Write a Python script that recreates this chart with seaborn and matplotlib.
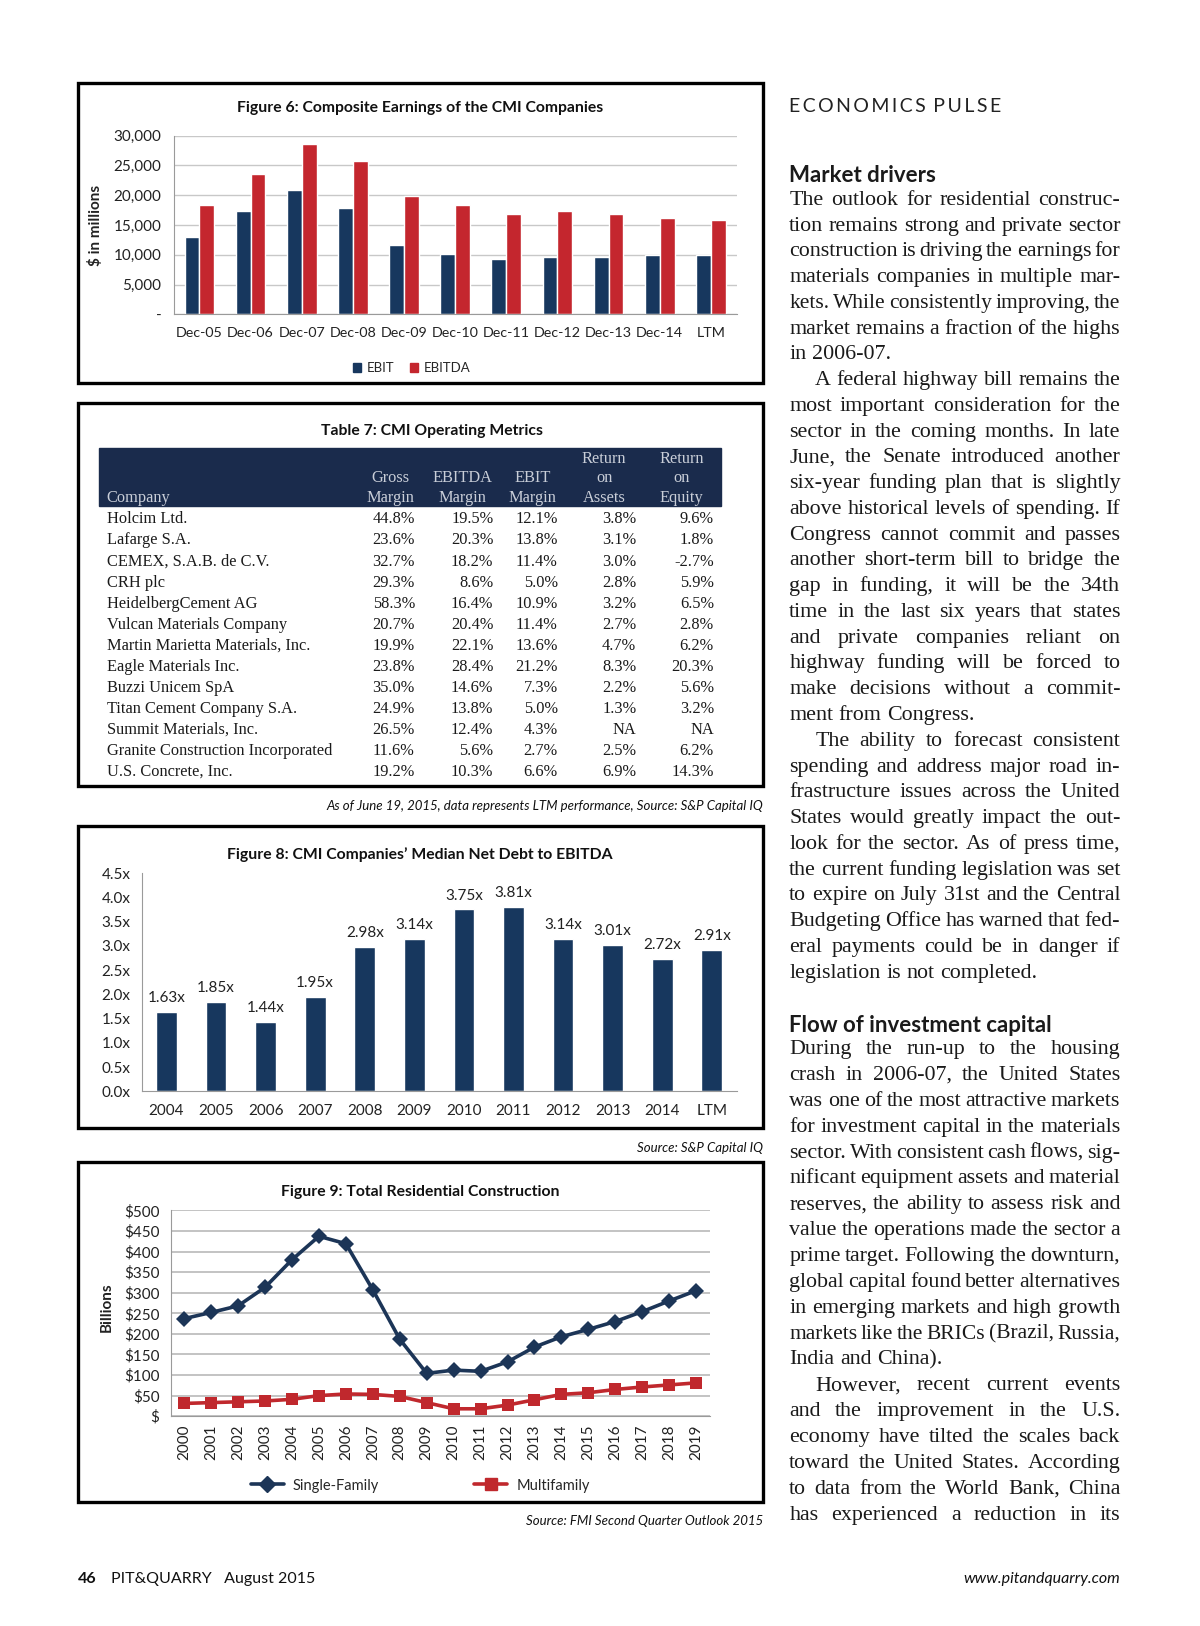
import numpy as np
import pandas as pd
import seaborn as sns
import matplotlib
matplotlib.use("Agg")
import matplotlib.pyplot as plt
from matplotlib.patches import Rectangle, Patch
from matplotlib.lines import Line2D
from matplotlib import font_manager

# ---------------- data ----------------
periods6 = ["Dec-05", "Dec-06", "Dec-07", "Dec-08", "Dec-09", "Dec-10",
            "Dec-11", "Dec-12", "Dec-13", "Dec-14", "LTM"]
ebit = [13000, 17300, 20900, 17800, 11600, 10100, 9300, 9700, 9700, 10000, 10000]
ebitda = [18400, 23500, 28500, 25700, 19900, 18400, 16900, 17300, 16800, 16100, 15800]

table_cols = ["Gross\nMargin", "EBITDA\nMargin", "EBIT\nMargin", "Return\non\nAssets", "Return\non\nEquity"]
companies = ["Holcim Ltd.", "Lafarge S.A.", "CEMEX, S.A.B. de C.V.", "CRH plc",
             "HeidelbergCement AG", "Vulcan Materials Company",
             "Martin Marietta Materials, Inc.", "Eagle Materials Inc.", "Buzzi Unicem SpA",
             "Titan Cement Company S.A.", "Summit Materials, Inc.",
             "Granite Construction Incorporated", "U.S. Concrete, Inc."]
gross_margin = ["44.8%", "23.6%", "32.7%", "29.3%", "58.3%", "20.7%", "19.9%", "23.8%", "35.0%", "24.9%", "26.5%", "11.6%", "19.2%"]
ebitda_margin = ["19.5%", "20.3%", "18.2%", "8.6%", "16.4%", "20.4%", "22.1%", "28.4%", "14.6%", "13.8%", "12.4%", "5.6%", "10.3%"]
ebit_margin = ["12.1%", "13.8%", "11.4%", "5.0%", "10.9%", "11.4%", "13.6%", "21.2%", "7.3%", "5.0%", "4.3%", "2.7%", "6.6%"]
roa = ["3.8%", "3.1%", "3.0%", "2.8%", "3.2%", "2.7%", "4.7%", "8.3%", "2.2%", "1.3%", "NA", "2.5%", "6.9%"]
roe = ["9.6%", "1.8%", "-2.7%", "5.9%", "6.5%", "2.8%", "6.2%", "20.3%", "5.6%", "3.2%", "NA", "6.2%", "14.3%"]

years8 = ["2004", "2005", "2006", "2007", "2008", "2009", "2010", "2011", "2012", "2013", "2014", "LTM"]
net_debt = [1.63, 1.85, 1.44, 1.95, 2.98, 3.14, 3.75, 3.81, 3.14, 3.01, 2.72, 2.91]

years9 = list(range(2000, 2020))
single_family = [237, 252, 268, 313, 380, 437, 419, 307, 187, 104, 112, 109, 132, 168, 193, 211, 230, 254, 280, 305]
multifamily = [31, 33, 35, 37, 41, 50, 54, 53, 48, 33, 18, 18, 27, 40, 53, 57, 65, 71, 76, 81]

para1 = [
    ("The outlook for residential construc-", 0, True),
    ("tion remains strong and private sector", 0, True),
    ("construction is driving the earnings for", 0, True),
    ("materials companies in multiple mar-", 0, True),
    ("kets. While consistently improving, the", 0, True),
    ("market remains a fraction of the highs", 0, True),
    ("in 2006-07.", 0, False),
    ("A federal highway bill remains the", 1, True),
    ("most important consideration for the", 0, True),
    ("sector in the coming months. In late", 0, True),
    ("June, the Senate introduced another", 0, True),
    ("six-year funding plan that is slightly", 0, True),
    ("above historical levels of spending. If", 0, True),
    ("Congress cannot commit and passes", 0, True),
    ("another short-term bill to bridge the", 0, True),
    ("gap in funding, it will be the 34th", 0, True),
    ("time in the last six years that states", 0, True),
    ("and private companies reliant on", 0, True),
    ("highway funding will be forced to", 0, True),
    ("make decisions without a commit-", 0, True),
    ("ment from Congress.", 0, False),
    ("The ability to forecast consistent", 1, True),
    ("spending and address major road in-", 0, True),
    ("frastructure issues across the United", 0, True),
    ("States would greatly impact the out-", 0, True),
    ("look for the sector. As of press time,", 0, True),
    ("the current funding legislation was set", 0, True),
    ("to expire on July 31st and the Central", 0, True),
    ("Budgeting Office has warned that fed-", 0, True),
    ("eral payments could be in danger if", 0, True),
    ("legislation is not completed.", 0, False),
]
para2 = [
    ("During the run-up to the housing", 0, True),
    ("crash in 2006-07, the United States", 0, True),
    ("was one of the most attractive markets", 0, True),
    ("for investment capital in the materials", 0, True),
    ("sector. With consistent cash flows, sig-", 0, True),
    ("nificant equipment assets and material", 0, True),
    ("reserves, the ability to assess risk and", 0, True),
    ("value the operations made the sector a", 0, True),
    ("prime target. Following the downturn,", 0, True),
    ("global capital found better alternatives", 0, True),
    ("in emerging markets and high growth", 0, True),
    ("markets like the BRICs (Brazil, Russia,", 0, True),
    ("India and China).", 0, False),
    ("However, recent current events", 1, True),
    ("and the improvement in the U.S.", 0, True),
    ("economy have tilted the scales back", 0, True),
    ("toward the United States. According", 0, True),
    ("to data from the World Bank, China", 0, True),
    ("has experienced a reduction in its", 0, True),
]

# ---------------- setup ----------------
sns.set_style("white")
names = {f.name for f in font_manager.fontManager.ttflist}
SANS = "Lato" if "Lato" in names else "DejaVu Sans"
NARROW = "Liberation Sans Narrow" if "Liberation Sans Narrow" in names else SANS
SERIF = "Liberation Serif" if "Liberation Serif" in names else "DejaVu Serif"
plt.rcParams["font.family"] = [SANS, "DejaVu Sans"]

W, H = 1200, 1626
S = 1200 / 1160.0
fig = plt.figure(figsize=(W / 100, H / 100), dpi=100)
renderer = fig.canvas.get_renderer()

def X(x):
    return x * S / W

def Y(y):
    return 1 - y * S / H

NAVY = "#17375e"
RED = "#c4262e"
GRID = "#c8c8c8"
SPINE = "#9a9a9a"
TXT = "#222222"
D = 3  # small downward nudge for centred texts

def box(x0, y0, x1, y1):
    fig.add_artist(Rectangle((X(x0), Y(y1)), X(x1) - X(x0), Y(y0) - Y(y1),
                             transform=fig.transFigure, fill=False, lw=2.4, ec="black", zorder=5))

# ---------------- Figure 6 ----------------
box(75, 80, 738, 370)
fig.text(X(406), Y(101 + D), "Figure 6: Composite Earnings of the CMI Companies",
         ha="center", va="center", fontsize=11.3, fontweight="bold", color="#111111")
ax6 = fig.add_axes([X(168), Y(304), X(712) - X(168), Y(131) - Y(304)])
df6 = pd.DataFrame({"Period": periods6 * 2, "Value": ebit + ebitda,
                    "Metric": ["EBIT"] * len(periods6) + ["EBITDA"] * len(periods6)})
sns.barplot(data=df6, x="Period", y="Value", hue="Metric", palette={"EBIT": NAVY, "EBITDA": RED},
            width=0.58, saturation=1, errorbar=None, legend=False, ax=ax6)
ax6.set_xlim(-0.5, len(periods6) - 0.5)
ax6.set_ylim(0, 30000)
yt = list(range(0, 30001, 5000))
ax6.set_yticks(yt)
ax6.set_yticklabels(["-"] + [f"{v:,}" for v in yt[1:]])
ax6.yaxis.grid(True, color=GRID, lw=1)
ax6.set_axisbelow(True)
ax6.set_facecolor("none")
for sp in ["top", "right"]:
    ax6.spines[sp].set_visible(False)
for sp in ["left", "bottom"]:
    ax6.spines[sp].set_color(SPINE)
ax6.tick_params(axis="y", length=4, color=SPINE, labelsize=11, labelcolor=TXT, pad=5)
ax6.tick_params(axis="x", length=0, labelsize=10.3, labelcolor=TXT, pad=9)
ax6.set_xticks(np.arange(-0.5, len(periods6), 1.0), minor=True)
ax6.tick_params(axis="x", which="minor", length=5, color=SPINE)
ax6.set_xlabel("")
ax6.set_ylabel("$ in millions", fontsize=11, fontweight="bold", color=TXT)
ax6.yaxis.set_label_coords((X(100) - X(168)) / (X(712) - X(168)), 0.5)
fig.legend(handles=[Patch(color=NAVY, label="EBIT"), Patch(color=RED, label="EBITDA")],
           loc="center", bbox_to_anchor=(X(398), Y(353 + D)), ncol=2, frameon=False,
           fontsize=9.5, handlelength=0.6, handleheight=0.6, handletextpad=0.4, columnspacing=1.2)

# ---------------- Table 7 ----------------
box(75, 390, 738, 760)
fig.text(X(418), Y(414 + D), "Table 7: CMI Operating Metrics", ha="center", va="center",
         fontsize=11.3, fontweight="bold", color="#111111")
fig.add_artist(Rectangle((X(96), Y(489)), X(697) - X(96), Y(433) - Y(489),
                         transform=fig.transFigure, color="#1a2b4c", zorder=1))
HDR = "#c9ced8"
tsize = 11.8
col_centers = [377, 447, 515, 584, 659]
col_rights = [401, 477, 539, 615, 690]
fig.text(X(103), Y(480 + 5), "Company", ha="left", va="baseline", fontsize=tsize,
         family=SERIF, color=HDR, zorder=2)
for c, label in zip(col_centers, table_cols):
    lines = label.split("\n")
    ys = [443, 461, 480][-len(lines):]
    for yy, ln in zip(ys, lines):
        fig.text(X(c), Y(yy + 5), ln, ha="center", va="baseline", fontsize=tsize,
                 family=SERIF, color=HDR, zorder=2)
cols = [gross_margin, ebitda_margin, ebit_margin, roa, roe]
for i, name in enumerate(companies):
    yy = 500 + 20.33 * i
    fig.text(X(103), Y(yy + 6), name, ha="left", va="baseline", fontsize=tsize,
             family=SERIF, color="#1a1a1a")
    for r, col in zip(col_rights, cols):
        fig.text(X(r), Y(yy + 6), col[i], ha="right", va="baseline", fontsize=tsize,
                 family=SERIF, color="#1a1a1a")
fig.text(X(738), Y(776 + D), "As of June 19, 2015, data represents LTM performance, Source: S&P Capital IQ",
         ha="right", va="center", fontsize=9.5, style="italic", family=NARROW, color="#111111")

# ---------------- Figure 8 ----------------
box(75, 798, 738, 1090)
fig.text(X(406), Y(823 + D), "Figure 8: CMI Companies\u2019 Median Net Debt to EBITDA",
         ha="center", va="center", fontsize=11.3, fontweight="bold", color="#111111")
ax8 = fig.add_axes([X(137), Y(1055), X(712) - X(137), Y(844) - Y(1055)])
df8 = pd.DataFrame({"Year": years8, "Ratio": net_debt})
sns.barplot(data=df8, x="Year", y="Ratio", color=NAVY, width=0.42, saturation=1,
            errorbar=None, ax=ax8)
ax8.bar_label(ax8.containers[0], labels=[f"{v:.2f}x" for v in net_debt], padding=5,
              fontsize=11, color=TXT)
ax8.set_xlim(-0.5, len(years8) - 0.5)
ax8.set_ylim(0, 4.5)
yt8 = np.arange(0, 4.51, 0.5)
ax8.set_yticks(yt8)
ax8.set_yticklabels([f"{v:.1f}x" for v in yt8])
ax8.set_facecolor("none")
for sp in ["top", "right"]:
    ax8.spines[sp].set_visible(False)
for sp in ["left", "bottom"]:
    ax8.spines[sp].set_color(SPINE)
ax8.tick_params(axis="y", length=4, color=SPINE, labelsize=11, labelcolor=TXT, pad=4)
ax8.tick_params(axis="x", length=0, labelsize=11, labelcolor=TXT, pad=9)
ax8.set_xticks(np.arange(-0.5, len(years8), 1.0), minor=True)
ax8.tick_params(axis="x", which="minor", length=5, color=SPINE)
ax8.set_xlabel("")
ax8.set_ylabel("")
fig.text(X(738), Y(1107 + D), "Source: S&P Capital IQ", ha="right", va="center", fontsize=9.5,
         style="italic", family=NARROW, color="#111111")

# ---------------- Figure 9 ----------------
box(75, 1123, 738, 1452)
fig.text(X(406), Y(1149 + D), "Figure 9: Total Residential Construction",
         ha="center", va="center", fontsize=11.3, fontweight="bold", color="#111111")
ax9 = fig.add_axes([X(165), Y(1369), X(686) - X(165), Y(1170) - Y(1369)])
SF_C = "#1c3557"
MF_C = "#c0282d"
df9 = pd.DataFrame({"Year": years9 * 2, "Value": single_family + multifamily,
                    "Series": ["Single-Family"] * len(years9) + ["Multifamily"] * len(years9)})
sns.lineplot(data=df9, x="Year", y="Value", hue="Series", style="Series",
             palette={"Single-Family": SF_C, "Multifamily": MF_C},
             markers={"Single-Family": "D", "Multifamily": "s"}, dashes=False,
             linewidth=2.6, markersize=8, markeredgewidth=0, legend=False, ax=ax9)
ax9.set_xlim(years9[0] - 0.5, years9[-1] + 0.5)
ax9.set_ylim(0, 500)
yt9 = list(range(0, 501, 50))
ax9.set_yticks(yt9)
ax9.set_yticklabels(["\\$"] + [f"\\${v}" for v in yt9[1:]])
ax9.set_xticks(years9)
ax9.set_xticklabels([str(y) for y in years9], rotation=90)
ax9.yaxis.grid(True, color="#b3b3b3", lw=1.1)
ax9.set_axisbelow(True)
ax9.set_facecolor("none")
for sp in ["top", "right"]:
    ax9.spines[sp].set_visible(False)
for sp in ["left", "bottom"]:
    ax9.spines[sp].set_color(SPINE)
ax9.tick_params(axis="y", length=4, color=SPINE, labelsize=11, labelcolor=TXT, pad=4)
ax9.tick_params(axis="x", length=0, labelsize=11, labelcolor=TXT, pad=6)
ax9.set_xlabel("")
ax9.set_ylabel("Billions", fontsize=11, fontweight="bold", color=TXT)
ax9.yaxis.set_label_coords((X(110) - X(165)) / (X(686) - X(165)), 0.53)
fig.legend(handles=[Line2D([], [], color=SF_C, lw=2.6, marker="D", markersize=8, label="Single-Family"),
                    Line2D([], [], color=MF_C, lw=2.6, marker="s", markersize=8, label="Multifamily")],
           loc="center", bbox_to_anchor=(X(406), Y(1433 + D)), ncol=2, frameon=False, fontsize=10.5,
           handlelength=2.3, handletextpad=0.6, columnspacing=6.5)
fig.text(X(738), Y(1467 + D), "Source: FMI Second Quarter Outlook 2015", ha="right", va="center",
         fontsize=9.5, style="italic", family=NARROW, color="#111111")

# ---------------- right column text ----------------
LEFT, RIGHT = 763, 1083
BODY = 15.8

def width_px(t):
    return t.get_window_extent(renderer).width

def place_line(text, y, indent, justify, size=BODY):
    words = text.split()
    x0 = X(LEFT + indent) * W
    x1 = X(RIGHT) * W
    avail = x1 - x0
    ts = [fig.text(0, Y(y + 6), w, ha="left", va="baseline", fontsize=size,
                   family=SERIF, color="#1a1a1a") for w in words]
    ws = [width_px(t) for t in ts]
    space = size * 100 / 72 * 0.25
    if justify and len(words) > 1:
        gap = (avail - sum(ws)) / (len(words) - 1)
        if gap < size * 100 / 72 * 0.15:
            for t in ts:
                t.remove()
            return place_line(text, y, indent, justify, size * 0.98)
    else:
        gap = space
    x = x0
    for t, w in zip(ts, ws):
        t.set_x(x / W)
        x += w + gap

fig.text(X(LEFT), Y(100 + D), "E C O N O M I C S   P U L S E".replace(" ", "\u2009"),
         ha="left", va="center", fontsize=14, family=SANS, color="#222222")
fig.text(X(LEFT), Y(167 + D), "Market drivers", ha="left", va="center", fontsize=16,
         fontweight="bold", family=SANS, color="#1a1a1a")
for i, (line, ind, just) in enumerate(para1):
    place_line(line, 192 + 24.9 * i, 25 * ind, just)
fig.text(X(LEFT), Y(988 + D), "Flow of investment capital", ha="left", va="center", fontsize=16,
         fontweight="bold", family=SANS, color="#1a1a1a")
for i, (line, ind, just) in enumerate(para2):
    place_line(line, 1013 + 25.0 * i, 25 * ind, just)

# ---------------- footer ----------------
fig.text(X(75), Y(1521 + D + 2), "46", ha="left", va="center", fontsize=11.5, fontweight="bold", color="#111111")
fig.text(X(107), Y(1521 + D + 2), "PIT&QUARRY   August 2015", ha="left", va="center", fontsize=11.5, color="#111111")
fig.text(X(1083), Y(1521 + D + 2), "www.pitandquarry.com", ha="right", va="center", fontsize=11.5,
         style="italic", color="#111111")

fig.savefig("out.png", dpi=100, facecolor="white")
